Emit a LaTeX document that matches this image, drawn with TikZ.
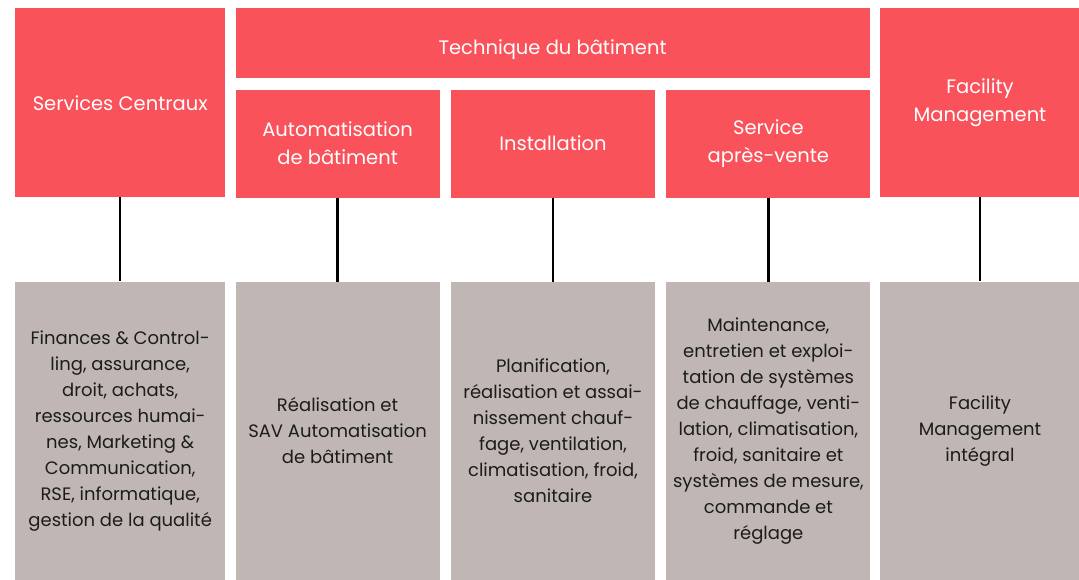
\documentclass[tikz,border=0pt]{standalone}
\usepackage{fontspec}
\setmainfont{Poppins}
\usetikzlibrary{positioning}
\definecolor{headred}{RGB}{249,82,91}
\definecolor{taskgray}{RGB}{192,183,180}
\definecolor{taskink}{RGB}{28,28,28}
\tikzset{
    head/.style={rectangle, fill=headred, text=white, inner sep=0pt, align=center, font=\fontsize{19.5}{28}\selectfont},
    task/.style={rectangle, fill=taskgray, text=taskink, inner sep=0pt, align=center, minimum height=298pt, font=\fontsize{18}{26}\selectfont},
    link/.style={draw, line width=2.4pt, black}
}

\begin{document}
\begin{tikzpicture}[x=1pt, y=-1pt]
    \useasboundingbox (0,0) rectangle (1079,579);
    % top row
    \node [head, anchor=north west, minimum width=210pt, minimum height=189pt] (central) at (15,8) {Services Centraux};
    \node [head, below right=0pt and 10pt of central.north east, minimum width=634pt, minimum height=70pt] (tech) {\raisebox{-11pt}[0pt][0pt]{Technique du bâtiment}};
    \node [head, below right=11pt and 0pt of tech.south west, minimum width=204pt, minimum height=108pt] (automat) {Automatisation\\de bâtiment};
    \node [head, right=11pt of automat, minimum width=204pt, minimum height=108pt] (install) {Installation};
    \node [head, right=11pt of install, minimum width=204pt, minimum height=108pt] (sav) {Service\\après-vente};
    \node [head, below right=0pt and 10pt of tech.north east, minimum width=200pt, minimum height=189pt] (facility) {Facility\\Management};

    % bottom row
    \node [task, below=84pt of central, minimum width=210pt] (t-central) {Finances \& Control-\\ling, assurance,\\droit, achats,\\ressources humai-\\nes, Marketing \&\\Communication,\\RSE, informatique,\\gestion de la qualité};
    \node [task, below=84pt of automat, minimum width=204pt] (t-automat) {Réalisation et\\SAV Automatisation\\de bâtiment};
    \node [task, below=84pt of install, minimum width=204pt] (t-install) {Planification,\\réalisation et assai-\\nissement chauf-\\fage, ventilation,\\climatisation, froid,\\sanitaire};
    \node [task, below=84pt of sav, minimum width=204pt] (t-sav) {Maintenance,\\entretien et exploi-\\tation de systèmes\\de chauffage, venti-\\lation, climatisation,\\froid, sanitaire et\\systèmes de mesure,\\commande et\\réglage};
    \node [task, below=84pt of facility, minimum width=200pt] (t-facility) {Facility\\Management\\intégral};

    \path [link] (central) -- (t-central);
    \path [link] (automat) -- (t-automat);
    \path [link] (install) -- (t-install);
    \path [link] (sav) -- (t-sav);
    \path [link] (facility) -- (t-facility);
\end{tikzpicture}
\end{document}
